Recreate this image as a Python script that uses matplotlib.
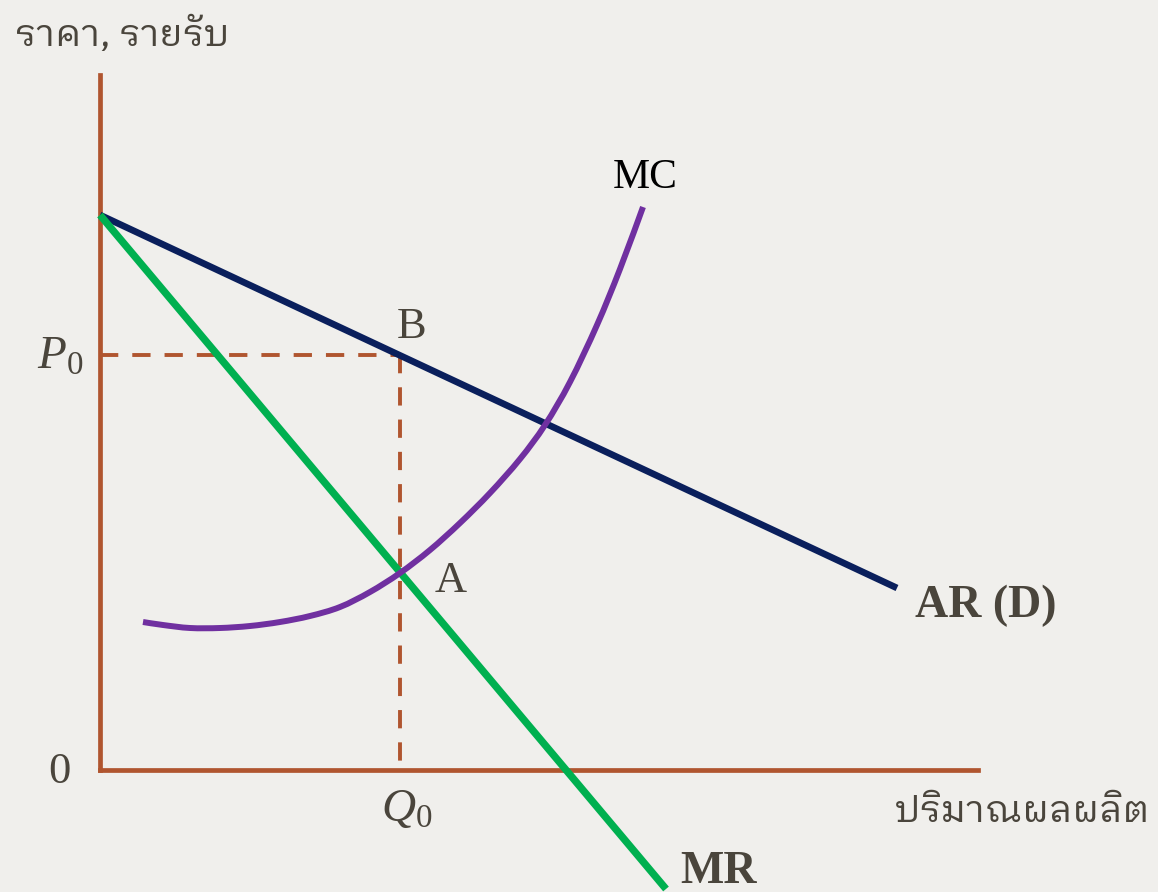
import matplotlib
matplotlib.use("Agg")
import numpy as np
import matplotlib.pyplot as plt
from matplotlib.path import Path
from matplotlib.patches import PathPatch

# ข้อมูลกราฟ (หน่วยสมมติ)
ar_q = [0.0, 79.7]
ar_p = [55.5, 18.2]
mr_q = [0.0, 56.6]
mr_p = [55.5, -11.9]
mc_q = [4.3, 6.3, 9.0, 12.0, 15.0, 18.0, 21.0, 24.0, 27.0, 30.0, 33.0, 36.0, 39.0, 42.0, 44.5, 47.0, 49.7, 52.0, 54.3]
mc_p = [14.8, 14.5, 14.2, 14.2, 14.4, 14.8, 15.4, 16.3, 17.8, 19.7, 22.0, 24.7, 27.7, 31.1, 34.5, 38.8, 44.5, 50.1, 56.3]
q0 = 30.0
p0 = 41.5
q_max = 87.8
p_max = 69.5

BG = '#f0efec'
AXIS = '#b0552f'
TXT = '#4a453c'

plt.rcParams['mathtext.fontset'] = 'custom'
plt.rcParams['mathtext.it'] = 'Liberation Serif:italic'
plt.rcParams['mathtext.rm'] = 'Liberation Serif'
thai = ['IBM Plex Sans Thai Looped', 'Noto Sans Thai Looped', 'DejaVu Sans']
serif = ['Liberation Serif', 'DejaVu Serif']


def smooth_path(xs, ys):
    # เส้นโค้งเบซิเยร์ผ่านทุกจุด (Catmull-Rom)
    pts = np.column_stack([xs, ys])
    ext = np.vstack([pts[0], pts, pts[-1]])
    verts = [pts[0]]
    codes = [Path.MOVETO]
    for i in range(1, len(ext) - 2):
        c1 = ext[i] + (ext[i + 1] - ext[i - 1]) / 6
        c2 = ext[i + 1] - (ext[i + 2] - ext[i]) / 6
        verts += [c1, c2, ext[i + 1]]
        codes += [Path.CURVE4] * 3
    return Path(verts, codes)


W, H = 1158, 892
fig = plt.figure(figsize=(W / 100, H / 100), dpi=100, facecolor=BG)
ax = fig.add_axes([100 / W, (H - 770) / H, 878 / W, 695 / H])
ax.set_facecolor('none')
ax.set_xlim(0, q_max)
ax.set_ylim(0, p_max)
for s in ['top', 'right']:
    ax.spines[s].set_visible(False)
for s in ['left', 'bottom']:
    ax.spines[s].set_color(AXIS)
    ax.spines[s].set_linewidth(3.4)
    ax.spines[s].set_capstyle('projecting')
ax.set_xticks([])
ax.set_yticks([])

# เส้นประ P0 และ Q0
ax.plot([0, q0], [p0, p0], color=AXIS, lw=2.8, dashes=(4.7, 3.6), zorder=2)
ax.plot([q0, q0], [p0, 0], color=AXIS, lw=2.8, dashes=(4.7, 3.6), zorder=2)

ax.plot(ar_q, ar_p, color='#0a1f5c', lw=4.8, solid_capstyle='butt', zorder=3)
ax.plot(mr_q, mr_p, color='#00b050', lw=5.3, solid_capstyle='butt', clip_on=False, zorder=3)
ax.add_patch(PathPatch(smooth_path(mc_q, mc_p), fill=False, edgecolor='#7030a0', lw=4.3,
                       capstyle='butt', joinstyle='round', zorder=4))

# ป้ายกำกับ
def px(x, y):
    return x / W, 1 - y / H

fig.text(*px(15, 35), 'ราคา, รายรับ', family=thai, fontsize=27, color=TXT, ha='left', va='center')
fig.text(*px(1150, 812), 'ปริมาณผลผลิต', family=thai, fontsize=27, color=TXT, ha='right', va='center')
fig.text(*px(59, 772), '0', family=serif, fontsize=32, color=TXT, ha='center', va='center')
fig.text(*px(60, 356), r'$P_0$', fontsize=34, color=TXT, ha='center', va='center')
fig.text(*px(407, 808), r'$Q_0$', fontsize=34, color=TXT, ha='center', va='center')
fig.text(*px(412, 327), 'B', family=serif, fontsize=32, color=TXT, ha='center', va='center')
fig.text(*px(451, 581), 'A', family=serif, fontsize=32, color=TXT, ha='center', va='center')
fig.text(*px(645, 178), 'MC', family=serif, fontsize=30, color='black', ha='center', va='center')
fig.text(*px(915, 606), 'AR (D)', family=serif, fontsize=33, fontweight='bold', color=TXT, ha='left', va='center')
fig.text(*px(680, 872), 'MR', family=serif, fontsize=33, fontweight='bold', color=TXT, ha='left', va='center')

fig.savefig('out.png', dpi=100, facecolor=BG)
